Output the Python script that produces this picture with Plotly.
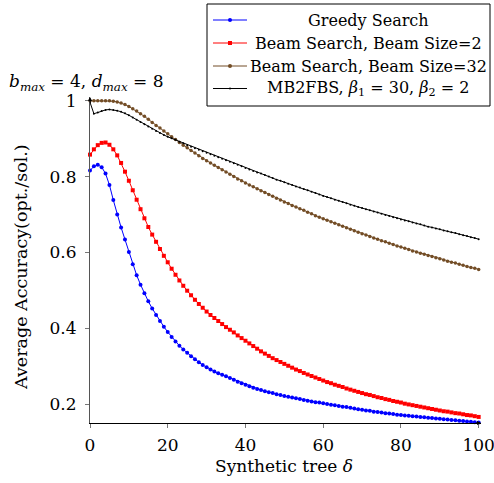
import plotly.graph_objects as go

# ---------------- data ----------------
delta = list(range(0, 101))

greedy = [
    0.816, 0.827, 0.831, 0.825, 0.808, 0.778, 0.738, 0.700, 0.666, 0.634,
    0.601, 0.569, 0.540, 0.515, 0.492, 0.471, 0.452, 0.435, 0.419, 0.404,
    0.390, 0.377, 0.365, 0.354, 0.344, 0.335, 0.326, 0.318, 0.310, 0.303,
    0.297, 0.291, 0.286, 0.281, 0.277, 0.273, 0.269, 0.264, 0.259, 0.255,
    0.251, 0.247, 0.243, 0.240, 0.237, 0.234, 0.231, 0.229, 0.226, 0.224,
    0.221, 0.219, 0.217, 0.215, 0.213, 0.211, 0.209, 0.207, 0.205, 0.204,
    0.202, 0.200, 0.198, 0.197, 0.195, 0.193, 0.192, 0.190, 0.188, 0.186,
    0.185, 0.183, 0.182, 0.180, 0.179, 0.178, 0.176, 0.175, 0.174, 0.172,
    0.171, 0.170, 0.169, 0.168, 0.167, 0.166, 0.165, 0.164, 0.163, 0.162,
    0.161, 0.160, 0.159, 0.158, 0.157, 0.156, 0.155, 0.154, 0.153, 0.152,
    0.151,
]

beam2 = [
    0.858, 0.872, 0.883, 0.889, 0.890, 0.884, 0.872, 0.856, 0.836, 0.813,
    0.789, 0.764, 0.739, 0.714, 0.690, 0.667, 0.647, 0.628, 0.609, 0.591,
    0.574, 0.557, 0.541, 0.526, 0.512, 0.499, 0.487, 0.475, 0.464, 0.454,
    0.444, 0.435, 0.427, 0.419, 0.411, 0.403, 0.396, 0.389, 0.381, 0.374,
    0.367, 0.360, 0.353, 0.346, 0.339, 0.333, 0.327, 0.321, 0.316, 0.311,
    0.306, 0.301, 0.296, 0.291, 0.287, 0.282, 0.278, 0.274, 0.270, 0.266,
    0.262, 0.258, 0.255, 0.251, 0.248, 0.245, 0.241, 0.238, 0.235, 0.232,
    0.229, 0.226, 0.224, 0.221, 0.218, 0.216, 0.213, 0.211, 0.208, 0.206,
    0.204, 0.201, 0.199, 0.197, 0.195, 0.193, 0.191, 0.189, 0.187, 0.185,
    0.183, 0.181, 0.180, 0.178, 0.176, 0.175, 0.173, 0.171, 0.170, 0.168,
    0.166,
]

beam32 = [
    1.000, 1.000, 1.000, 1.000, 1.000, 1.000, 0.999, 0.997, 0.994, 0.990,
    0.985, 0.979, 0.973, 0.966, 0.959, 0.951, 0.943, 0.935, 0.928, 0.920,
    0.913, 0.905, 0.898, 0.890, 0.883, 0.876, 0.869, 0.862, 0.855, 0.848,
    0.842, 0.836, 0.830, 0.824, 0.818, 0.812, 0.806, 0.800, 0.794, 0.789,
    0.783, 0.778, 0.773, 0.768, 0.763, 0.758, 0.753, 0.748, 0.743, 0.738,
    0.733, 0.729, 0.724, 0.720, 0.715, 0.711, 0.706, 0.702, 0.697, 0.693,
    0.689, 0.685, 0.681, 0.677, 0.673, 0.669, 0.665, 0.661, 0.657, 0.653,
    0.649, 0.646, 0.642, 0.638, 0.635, 0.631, 0.628, 0.624, 0.621, 0.617,
    0.614, 0.611, 0.608, 0.604, 0.601, 0.598, 0.595, 0.592, 0.589, 0.586,
    0.583, 0.580, 0.577, 0.574, 0.572, 0.569, 0.566, 0.563, 0.560, 0.558,
    0.555,
]

mb2fbs = [
    0.996, 0.966, 0.969, 0.973, 0.976, 0.977, 0.976, 0.974, 0.971, 0.967,
    0.962, 0.956, 0.950, 0.944, 0.938, 0.932, 0.926, 0.920, 0.915, 0.910,
    0.905, 0.901, 0.897, 0.892, 0.888, 0.883, 0.879, 0.875, 0.871, 0.867,
    0.863, 0.859, 0.855, 0.851, 0.847, 0.843, 0.839, 0.835, 0.831, 0.827,
    0.823, 0.819, 0.815, 0.811, 0.808, 0.804, 0.800, 0.796, 0.792, 0.789,
    0.785, 0.781, 0.778, 0.774, 0.771, 0.767, 0.764, 0.760, 0.757, 0.753,
    0.749, 0.746, 0.743, 0.739, 0.736, 0.733, 0.730, 0.726, 0.723, 0.720,
    0.717, 0.714, 0.711, 0.708, 0.705, 0.702, 0.699, 0.696, 0.693, 0.690,
    0.687, 0.684, 0.682, 0.679, 0.676, 0.674, 0.671, 0.668, 0.666, 0.663,
    0.661, 0.658, 0.656, 0.653, 0.651, 0.648, 0.645, 0.643, 0.640, 0.638,
    0.635,
]

series_names = [
    "Greedy Search",
    "Beam Search, Beam Size=2",
    "Beam Search, Beam Size=32",
    "MB2FBS, <i>β</i><sub>1</sub> = 30, <i>β</i><sub>2</sub> = 2",
]

x_tickvals = [0, 20, 40, 60, 80, 100]
x_ticktext = ["0", "20", "40", "60", "80", "100"]
y_tickvals = [0.2, 0.4, 0.6, 0.8, 1.0]
y_ticktext = ["0.2", "0.4", "0.6", "0.8", "1"]

x_title = "Synthetic tree <i>δ</i>"
y_title = "Average Accuracy(opt./sol.)"
corner_label = "<i>b</i><sub><i>max</i></sub> = 4, <i>d</i><sub><i>max</i></sub> = 8"

# ---------------- styling ----------------
FONT = "DejaVu Serif"
COLORS = ["#0000ff", "#ff0000", "#734d26", "#000000"]
SYMBOLS = ["circle", "square", "circle", "circle"]
MSIZES = [4, 4, 3.5, 2]

WIDTH, HEIGHT = 494, 483
ML, MR, MT, MB = 90, 13, 97, 60
PW = WIDTH - ML - MR
PH = HEIGHT - MT - MB
XR = [0, 100.6]
YR = [0.15, 1.01]


def px_x(px):
    return (px - ML) / PW


def px_y(py):
    return (HEIGHT - MB - py) / PH


fig = go.Figure()
data = [greedy, beam2, beam32, mb2fbs]
for vals, name, col, sym, ms in zip(data, series_names, COLORS, SYMBOLS, MSIZES):
    fig.add_trace(go.Scatter(
        x=delta, y=vals, mode="lines+markers", name=name,
        line=dict(color=col, width=1),
        marker=dict(color=col, symbol=sym, size=ms, line=dict(width=0)),
        cliponaxis=False, showlegend=False, hoverinfo="skip",
    ))

fig.update_layout(
    width=WIDTH, height=HEIGHT,
    margin=dict(l=ML, r=MR, t=MT, b=MB, autoexpand=False),
    paper_bgcolor="white", plot_bgcolor="white",
    font=dict(family=FONT, size=17, color="black"),
    xaxis=dict(
        range=XR, showgrid=False, zeroline=False, showline=True,
        linecolor="black", linewidth=1, mirror=False, automargin=False,
        tickvals=x_tickvals, ticktext=x_ticktext,
        ticks="outside", ticklen=4, tickcolor="#777777", tickwidth=1,
        ticklabelstandoff=3, ticklabeloverflow="allow",
        tickfont=dict(family=FONT, size=17),
    ),
    yaxis=dict(
        range=YR, showgrid=False, zeroline=False, showline=True,
        linecolor="#555555", linewidth=1, mirror=False, automargin=False,
        tickvals=y_tickvals, ticktext=y_ticktext,
        ticks="outside", ticklen=4, tickcolor="#777777", tickwidth=1,
        ticklabelstandoff=5, ticklabeloverflow="allow",
        tickfont=dict(family=FONT, size=17),
    ),
)

annotations = [
    dict(text=x_title, xref="paper", yref="paper", x=px_x(284), y=px_y(466),
         xanchor="center", yanchor="middle", showarrow=False,
         font=dict(family=FONT, size=17)),
    dict(text=y_title, xref="paper", yref="paper", x=px_x(21), y=px_y(267),
         xanchor="center", yanchor="middle", textangle=-90, showarrow=False,
         font=dict(family=FONT, size=17.5)),
    dict(text=corner_label, xref="paper", yref="paper", x=px_x(7), y=px_y(82),
         xanchor="left", yanchor="middle", showarrow=False,
         font=dict(family=FONT, size=17)),
    # axis arrow tips
    dict(text="", xref="x", yref="y", x=XR[1], y=YR[0], ax=-7, ay=0,
         showarrow=True, arrowhead=2, arrowsize=0.8, arrowwidth=1, arrowcolor="black"),
    dict(text="", xref="x", yref="y", x=0, y=YR[1], ax=0, ay=7,
         showarrow=True, arrowhead=2, arrowsize=0.8, arrowwidth=1, arrowcolor="black"),
]

shapes = [
    dict(type="rect", xref="paper", yref="paper",
         x0=px_x(207), x1=px_x(490), y0=px_y(106), y1=px_y(4),
         line=dict(color="black", width=1), fillcolor="white", layer="above"),
]

row_y = [20, 43, 66, 88.5]
for name, col, sym, py in zip(series_names, COLORS, SYMBOLS, row_y):
    shapes.append(dict(type="line", xref="paper", yref="paper",
                       x0=px_x(213), x1=px_x(247), y0=px_y(py), y1=px_y(py),
                       line=dict(color=col, width=1), layer="above"))
    r = 2 if col != "#000000" else 1
    shapes.append(dict(type="circle" if sym == "circle" else "rect",
                       xref="paper", yref="paper",
                       x0=px_x(230 - r), x1=px_x(230 + r),
                       y0=px_y(py + r), y1=px_y(py - r),
                       line=dict(color=col, width=0), fillcolor=col, layer="above"))
    annotations.append(dict(text=name, xref="paper", yref="paper",
                            x=px_x(368), y=px_y(py), xanchor="center", yanchor="middle",
                            showarrow=False, font=dict(family=FONT, size=16)))

fig.update_layout(annotations=annotations, shapes=shapes)

fig.write_html(
    "out.html",
    config={"displayModeBar": False},
    post_script=(
        "document.body.style.margin='0px';"
        "document.documentElement.style.overflow='hidden';"
        "document.body.style.overflow='hidden';"
    ),
)
